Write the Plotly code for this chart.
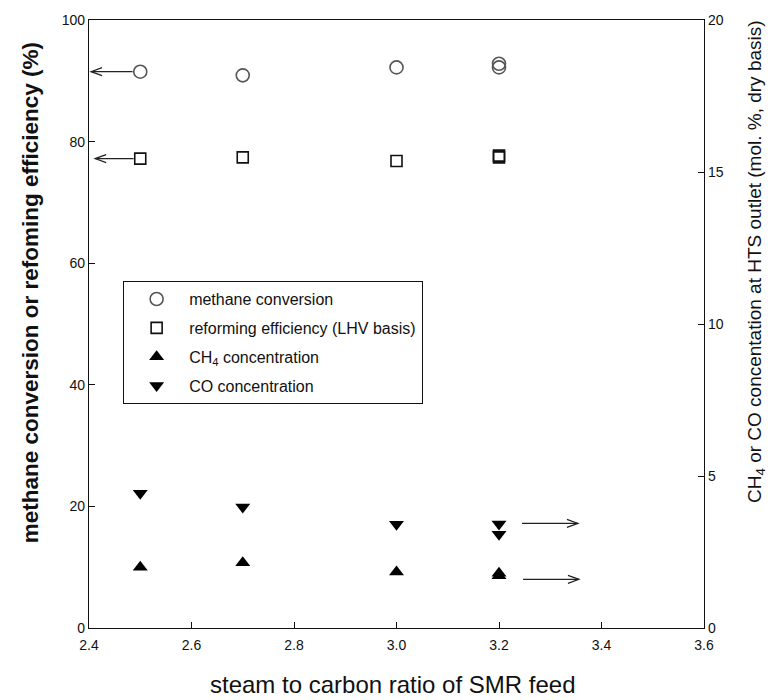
import plotly.graph_objects as go

# ---- data ----
s_c_ratio = [2.5, 2.7, 3.0, 3.2, 3.2]
methane_conversion = [91.5, 90.9, 92.2, 92.8, 92.2]
reforming_efficiency = [77.2, 77.4, 76.8, 77.7, 77.4]
ch4_conc = [2.0, 2.15, 1.84, 1.80, 1.72]
co_conc = [4.43, 3.98, 3.41, 3.42, 3.08]

x_ticks = [2.4, 2.6, 2.8, 3.0, 3.2, 3.4, 3.6]
y_ticks = [0, 20, 40, 60, 80, 100]
y2_ticks = [0, 5, 10, 15, 20]

FONT = "Liberation Sans, Arial, sans-serif"

fig = go.Figure()
fig.add_trace(go.Scatter(
    x=s_c_ratio, y=methane_conversion, mode="markers", name="methane conversion",
    legendgroup="a",
    marker=dict(symbol="circle-open", size=13, color="#555555", line=dict(width=1.6)),
))
fig.add_trace(go.Scatter(
    x=s_c_ratio, y=reforming_efficiency, mode="markers", name="reforming efficiency (LHV basis)",
    legendgroup="b",
    marker=dict(symbol="square-open", size=11, color="#111111", line=dict(width=1.6)),
))
fig.add_trace(go.Scatter(
    x=s_c_ratio, y=ch4_conc, mode="markers", name="CH<sub>4</sub> concentration", yaxis="y2",
    legendgroup="c",
    marker=dict(symbol="triangle-up", size=13, color="#000000"),
))
fig.add_trace(go.Scatter(
    x=s_c_ratio, y=co_conc, mode="markers", name="CO concentration", yaxis="y2",
    legendgroup="d",
    marker=dict(symbol="triangle-down", size=13, color="#000000"),
))

# ---- arrows pointing to the relevant axis ----
# (tail x, tip x, y, axis)
arrows = [
    (2.485, 2.404, 91.5, "y"),
    (2.487, 2.412, 77.2, "y"),
    (3.245, 3.354, 3.44, "y2"),
    (3.247, 3.356, 1.60, "y2"),
]
shapes = []
for tail, tip, yv, ax in arrows:
    shapes.append(dict(type="line", xref="x", yref=ax, x0=tail, x1=tip, y0=yv, y1=yv,
                       line=dict(color="#222222", width=1.2)))
    d = -1 if tip > tail else 1
    shapes.append(dict(type="path", xref="x", yref=ax, xsizemode="pixel", ysizemode="pixel",
                       xanchor=tip, yanchor=yv,
                       path=f"M {d*11},4 L 0,0 L {d*11},-4",
                       line=dict(color="#222222", width=1.2)))

annotations = [
    dict(text="steam to carbon ratio of SMR feed", xref="paper", yref="paper",
         x=0.495, y=-0.093, xanchor="center", yanchor="middle", showarrow=False,
         font=dict(size=24)),
    dict(text="methane conversion or refoming efficiency (%)", xref="paper", yref="paper",
         x=-0.096, y=0.552, xanchor="center", yanchor="middle", showarrow=False,
         textangle=-90, font=dict(size=22.5, weight="bold")),
    dict(text="CH<sub>4</sub> or CO concentation at HTS outlet (mol. %, dry basis)",
         xref="paper", yref="paper",
         x=1.0846, y=0.602, xanchor="center", yanchor="middle", showarrow=False,
         textangle=-90, font=dict(size=19)),
]

fig.update_layout(
    width=775, height=700,
    margin=dict(l=89, r=71, t=18, b=72),
    paper_bgcolor="white", plot_bgcolor="white",
    font=dict(family=FONT, color="#111111"),
    showlegend=True,
    legend=dict(
        x=0.055, y=0.571, xanchor="left", yanchor="top",
        bordercolor="#111111", borderwidth=1.3, bgcolor="white",
        font=dict(size=16, family=FONT), itemwidth=55, tracegroupgap=5,
    ),
    xaxis=dict(
        range=[2.4, 3.6], tickvals=x_ticks, tickformat=".1f",
        ticks="inside", ticklen=6, tickcolor="#111111",
        showline=True, linecolor="#111111", linewidth=1.3, mirror=True,
        showgrid=False, zeroline=False,
        tickfont=dict(size=14),
        ticklabelstandoff=4,
    ),
    yaxis=dict(
        range=[0, 100], tickvals=y_ticks,
        ticks="inside", ticklen=6, tickcolor="#111111",
        showline=True, linecolor="#111111", linewidth=1.3,
        showgrid=False, zeroline=False,
        tickfont=dict(size=14),
    ),
    yaxis2=dict(
        range=[0, 20], tickvals=y2_ticks, overlaying="y", side="right",
        ticks="inside", ticklen=6, tickcolor="#111111",
        showline=True, linecolor="#111111", linewidth=1.3,
        showgrid=False, zeroline=False,
        tickfont=dict(size=14),
    ),
    shapes=shapes,
    annotations=annotations,
)

fig.write_html("out.html")
